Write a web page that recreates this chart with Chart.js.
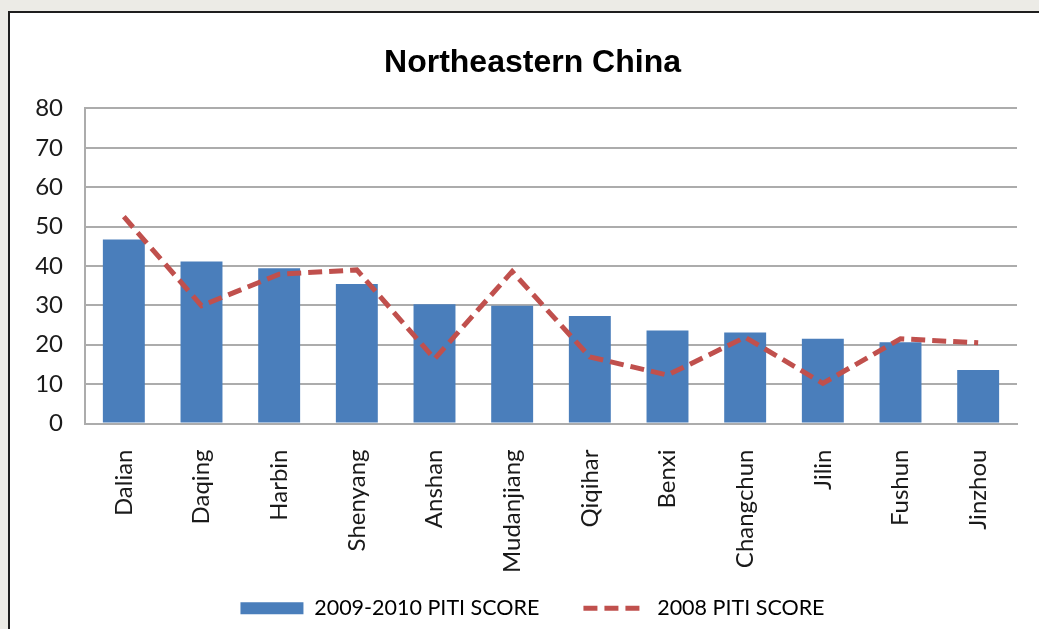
<!DOCTYPE html>
<html>
<head>
<meta charset="utf-8">
<script src="https://cdn.jsdelivr.net/npm/chart.js@4/dist/chart.umd.min.js"></script>
<style>
    html, body { margin: 0; padding: 0; width: 1039px; height: 629px; overflow: hidden; background: #ecebe6; }
    #frame { position: absolute; left: 8px; top: 11px; width: 1100px; height: 700px; background: #fff;
             border-left: 2px solid #1e1e1e; border-top: 2px solid #1e1e1e; }
    #chart { position: absolute; left: 0; top: 0; }
</style>
</head>
<body>
<div id="frame"></div>
<canvas id="chart" width="1039" height="629"></canvas>
<script>
let cities = ['Dalian', 'Daqing', 'Harbin', 'Shenyang', 'Anshan', 'Mudanjiang',
              'Qiqihar', 'Benxi', 'Changchun', 'Jilin', 'Fushun', 'Jinzhou'];
let score_2009_2010 = [46.7, 41.1, 39.4, 35.4, 30.3, 29.9, 27.3, 23.6, 23.1, 21.5, 20.6, 13.6];
let score_2008 = [52.5, 29.9, 37.9, 39.0, 16.4, 38.6, 16.9, 12.3, 21.9, 10.2, 21.5, 20.5];
let y_min = 0, y_max = 80, y_step = 10;

let blue = '#4a7ebb';
let red = '#c0504d';
let grid_gray = '#acacac';
let font_family = 'Lato, "Open Sans", sans-serif';

// axis boxes are sized tight on purpose, so let the tick labels draw outside them
let no_label_clip = function(scale) {
    scale._computeLabelArea = function() { return undefined; };
};

let ctx = document.getElementById('chart').getContext('2d');

let chart = new Chart(ctx, {
    type: 'bar',
    data: {
        labels: cities,
        datasets: [{
            label: '2009-2010 PITI SCORE',
            data: score_2009_2010,
            backgroundColor: blue,
            barPercentage: 0.54,
            categoryPercentage: 1,
            order: 2,
        }, {
            type: 'line',
            label: '2008 PITI SCORE',
            data: score_2008,
            borderColor: red,
            borderWidth: 5,
            borderDash: [14, 7],
            borderCapStyle: 'butt',
            pointRadius: 0,
            tension: 0,
            fill: false,
            order: 1,
        }],
    },
    options: {
        responsive: false,
        animation: false,
        layout: {
            padding: { left: 48, right: 22, top: 0, bottom: 0 }
        },
        plugins: {
            title: {
                display: true,
                text: 'Northeastern China',
                color: '#000',
                font: { family: '"Liberation Sans", Arial, sans-serif', size: 32, weight: 'bold' },
                padding: { top: 44, bottom: 26 },
            },
            legend: {
                position: 'bottom',
                labels: {
                    usePointStyle: true,
                    pointStyleWidth: 63,
                    boxHeight: 12,
                    padding: 44,
                    color: '#1a1a1a',
                    font: { family: font_family, size: 21.5 },
                    generateLabels: function(c) {
                        return [{
                            text: '2009-2010 PITI SCORE',
                            fillStyle: blue,
                            strokeStyle: blue,
                            lineWidth: 0,
                            pointStyle: 'rect',
                            datasetIndex: 0,
                        }, {
                            text: '2008 PITI SCORE',
                            fillStyle: red,
                            strokeStyle: red,
                            lineWidth: 5,
                            lineDash: [14, 7],
                            lineCap: 'butt',
                            pointStyle: 'line',
                            datasetIndex: 1,
                        }];
                    },
                },
            },
            tooltip: { enabled: false },
        },
        scales: {
            x: {
                grid: { display: false },
                border: { display: true, color: grid_gray, width: 2 },
                ticks: {
                    minRotation: 90,
                    maxRotation: 90,
                    padding: 18,
                    color: '#1a1a1a',
                    font: { family: font_family, size: 24 },
                },
                afterFit: function(scale) {
                    scale.height = 130;
                    no_label_clip(scale);
                },
            },
            y: {
                min: y_min,
                max: y_max,
                ticks: {
                    stepSize: y_step,
                    padding: 22,
                    color: '#1a1a1a',
                    font: { family: font_family, size: 24 },
                },
                grid: { color: grid_gray, lineWidth: 2, drawTicks: false },
                border: { display: true, color: grid_gray, width: 2 },
                afterFit: function(scale) {
                    scale.width = 37;
                    no_label_clip(scale);
                },
            },
        },
    },
});
</script>
</body>
</html>
